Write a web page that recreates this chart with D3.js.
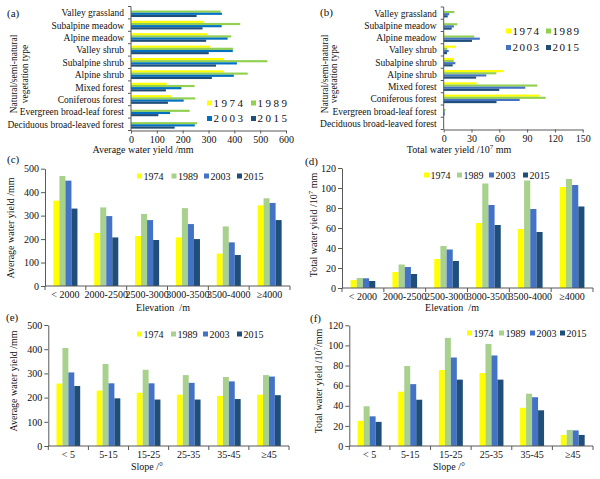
<!DOCTYPE html>
<html><head><meta charset="utf-8">
<script src="https://cdn.jsdelivr.net/npm/d3@7/dist/d3.min.js"></script>
<style>
body{margin:0;background:#fff}
svg{display:block}
text{font-family:"Liberation Serif","Times New Roman",serif;fill:#111}
</style>
</head><body>
<svg id="chart" width="600" height="479"></svg>
<script>
// ---------------- DATA ----------------
const years = ["1974", "1989", "2003", "2015"];

const vegTypes = ["Valley grassland", "Subalpine meadow", "Alpine meadow", "Valley shrub",
  "Subalpine shrub", "Alpine shrub", "Mixed forest", "Coniferous forest",
  "Evergreen broad-leaf forest", "Deciduous broad-leaved forest"];

// (a) average water yield by vegetation type (mm)
const vegAvg1974 = [0, 283, 297, 307, 359, 359, 138, 157, 0, 0];
const vegAvg1989 = [347, 423, 388, 395, 528, 452, 246, 249, 227, 256];
const vegAvg2003 = [352, 351, 374, 394, 410, 398, 195, 204, 151, 247];
const vegAvg2015 = [254, 277, 291, 301, 329, 313, 135, 143, 106, 169];

// (b) total water yield by vegetation type (10^7 mm)
const vegTot1974 = [0, 0.7, 1, 13.3, 10.8, 64.7, 35.6, 103, 0, 0];
const vegTot1989 = [11.5, 14.7, 33, 3.6, 10.8, 56.8, 101, 110, 2, 0.3];
const vegTot2003 = [6, 11, 39, 5.4, 12.6, 46, 88, 82, 1, 0.3];
const vegTot2015 = [4.3, 8.6, 30.5, 3.6, 9.7, 35, 60, 57, 1, 0.3];

const elevClasses = ["< 2000", "2000-2500", "2500-3000", "3000-3500", "3500-4000", "\u22654000"];
// (c) average water yield by elevation (mm)
const elevAvg1974 = [364, 226, 213, 207, 138, 344];
const elevAvg1989 = [469, 335, 307, 332, 254, 374];
const elevAvg2003 = [449, 298, 281, 264, 186, 354];
const elevAvg2015 = [330, 207, 196, 200, 132, 281];
// (d) total water yield by elevation (10^7 mm)
const elevTot1974 = [8, 16, 29, 65, 59, 101];
const elevTot1989 = [10, 23.5, 42, 104.5, 107.5, 109];
const elevTot2003 = [9.7, 21, 38.5, 83, 79, 103];
const elevTot2015 = [7, 14, 27, 63, 56, 81.5];

const slopeClasses = ["< 5", "5-15", "15-25", "25-35", "35-45", "\u226545"];
// (e) average water yield by slope (mm)
const slopeAvg1974 = [258, 229, 220, 212, 207, 212];
const slopeAvg1989 = [405, 339, 315, 293, 285, 293];
const slopeAvg2003 = [304, 259, 259, 261, 267, 287];
const slopeAvg2015 = [248, 197, 192, 192, 194, 210];
// (f) total water yield by slope (10^7 mm)
const slopeTot1974 = [25, 54, 75.5, 72.5, 38, 11];
const slopeTot1989 = [39.5, 79.5, 107.5, 101.5, 52, 16];
const slopeTot2003 = [29.5, 61.5, 88, 90, 48.5, 15.5];
const slopeTot2015 = [24, 46, 66, 66, 35.5, 11];

const ticksAvgVeg = [0, 100, 200, 300, 400, 500, 600];
const ticksTotVeg = [0, 30, 60, 90, 120, 150];
const ticksAvg = [0, 100, 200, 300, 400, 500];
const ticksTot = [0, 20, 40, 60, 80, 100, 120];

// ---------------- DRAWING ----------------
const colorsH = ["#FFFF00", "#92D050", "#0070C0", "#1F4E79"];
const colorsHb = ["#FFFF00", "#92D050", "#4472C4", "#1F4E79"];
const colorsV = ["#FFFF00", "#A9D18E", "#4472C4", "#1F4E79"];
const axisColor = "#595959";

const svg = d3.select("#chart");

function addTitle(sel, parts) {
  parts.forEach(([t, sup], i) => {
    const ts = sel.append("tspan").text(t);
    if (sup) ts.attr("dy", -4).attr("font-size", 7);
    else if (i > 0 && parts[i - 1][1]) ts.attr("dy", 4);
  });
}

function legend(g, pos, colors, fs, ls) {
  years.forEach((yr, i) => {
    const [sx, sy] = pos[i];
    g.append("rect").attr("x", sx).attr("y", sy - 2.5).attr("width", 5).attr("height", 5).attr("fill", colors[i]);
    g.append("text").attr("x", sx + 6.5).attr("y", sy + 3.6)
      .attr("font-size", fs).attr("letter-spacing", ls).text(yr);
  });
}

function hPanel(o) {
  const g = svg.append("g");
  const x = d3.scaleLinear().domain([0, o.max]).range([o.x0, o.x1]);
  const y = d3.scaleBand().domain(vegTypes).range([o.y0, o.y1]).paddingInner(0.3).paddingOuter(0.15);
  const yy = d3.scaleBand().domain(years).range([0, y.bandwidth()]);
  o.series.forEach((arr, si) => {
    g.append("g").selectAll("rect").data(arr).join("rect")
      .attr("x", x(0))
      .attr("y", (d, i) => y(vegTypes[i]) + yy(years[si]))
      .attr("width", d => x(d) - x(0))
      .attr("height", yy.bandwidth())
      .attr("fill", o.colors[si]);
  });
  const ax = g.append("g").attr("transform", `translate(0,${o.y1})`)
    .call(d3.axisBottom(x).tickValues(o.ticks).tickSize(3).tickPadding(2).tickSizeOuter(0));
  ax.select(".domain").attr("stroke", axisColor);
  ax.selectAll(".tick line").attr("stroke", axisColor);
  ax.selectAll(".tick text").attr("font-size", 10).attr("font-family", "Liberation Serif").attr("fill", "#111");
  g.append("line").attr("x1", o.x0).attr("x2", o.x0).attr("y1", o.y0).attr("y2", o.y1).attr("stroke", axisColor);
  const bounds = vegTypes.map(c => y(c) - y.step() * y.paddingInner() / 2).concat([o.y1]);
  g.selectAll(".bt").data(bounds).join("line")
    .attr("x1", o.x0 - 3).attr("x2", o.x0).attr("y1", d => d).attr("y2", d => d).attr("stroke", axisColor);
  g.selectAll(".cl").data(vegTypes).join("text")
    .attr("x", o.x0 - 7).attr("y", d => y(d) + y.bandwidth() / 2 + 3.5)
    .attr("text-anchor", "end").attr("font-size", 9.5).text(d => d);
  const xt = g.append("text").attr("x", o.xtX).attr("y", o.xtY).attr("text-anchor", "middle").attr("font-size", 10);
  addTitle(xt, o.xtitle);
  o.ytitle.forEach((t, i) => {
    g.append("text").attr("transform", `translate(${o.ytX[i]},${o.ytY}) rotate(-90)`)
      .attr("text-anchor", "middle").attr("font-size", 9.5).text(t);
  });
  g.append("text").attr("x", o.lab[0]).attr("y", o.lab[1]).attr("font-size", 11).text(o.label);
  legend(g, o.legPos, o.colors, 11, o.ls);
}

function vPanel(o) {
  const g = svg.append("g");
  const x = d3.scaleBand().domain(o.cats).range([o.x0, o.x1]).paddingInner(0.41).paddingOuter(0.205);
  const xx = d3.scaleBand().domain(years).range([0, x.bandwidth()]);
  const y = d3.scaleLinear().domain([0, o.max]).range([o.yb, o.yt]);
  o.series.forEach((arr, si) => {
    g.append("g").selectAll("rect").data(arr).join("rect")
      .attr("x", (d, i) => x(o.cats[i]) + xx(years[si]))
      .attr("y", d => y(d))
      .attr("width", xx.bandwidth())
      .attr("height", d => y(0) - y(d))
      .attr("fill", o.colors[si]);
  });
  const ay = g.append("g").attr("transform", `translate(${o.x0},0)`)
    .call(d3.axisLeft(y).tickValues(o.ticks).tickSize(4).tickPadding(2).tickSizeOuter(0));
  ay.select(".domain").attr("stroke", axisColor);
  ay.selectAll(".tick line").attr("stroke", axisColor);
  ay.selectAll(".tick text").attr("font-size", 10).attr("font-family", "Liberation Serif").attr("fill", "#111");
  g.append("line").attr("x1", o.x0).attr("x2", o.x1).attr("y1", o.yb).attr("y2", o.yb).attr("stroke", axisColor);
  const bounds = o.cats.map(c => x(c) - x.step() * x.paddingInner() / 2).concat([o.x1]);
  g.selectAll(".bt").data(bounds).join("line")
    .attr("x1", d => d).attr("x2", d => d).attr("y1", o.yb).attr("y2", o.yb + 4).attr("stroke", axisColor);
  g.selectAll(".cl").data(o.cats).join("text")
    .attr("x", d => x(d) + x.bandwidth() / 2).attr("y", o.yb + 12)
    .attr("text-anchor", "middle").attr("font-size", 10).text(d => d);
  g.append("text").attr("x", o.xtX).attr("y", o.xtY).attr("text-anchor", "middle")
    .attr("font-size", 10).attr("xml:space", "preserve").text(o.xtitle);
  const yt = g.append("text").attr("transform", `translate(${o.ytX},${o.ytY}) rotate(-90)`)
    .attr("text-anchor", "middle").attr("font-size", 10);
  addTitle(yt, o.ytitle);
  g.append("text").attr("x", o.lab[0]).attr("y", o.lab[1]).attr("font-size", 11).text(o.label);
  legend(g, o.legPos, o.colors, 10, 0);
}

// (a)
hPanel({
  x0: 131, x1: 286, y0: 6.5, y1: 130.5, max: 600, ticks: ticksAvgVeg,
  series: [vegAvg1974, vegAvg1989, vegAvg2003, vegAvg2015], colors: colorsH,
  xtitle: [["Average  water yield /mm", false]], xtX: 143, xtY: 153,
  ytitle: ["Natural/semi-natural", "vegetation  type"], ytX: [17, 27.5], ytY: 74,
  label: "(a)", lab: [7, 17],
  legPos: [[207, 103], [251, 103], [207, 118.5], [251, 118.5]], ls: 2.5
});
// (b)
hPanel({
  x0: 443.7, x1: 582.7, y0: 7, y1: 129.5, max: 150, ticks: ticksTotVeg,
  series: [vegTot1974, vegTot1989, vegTot2003, vegTot2015], colors: colorsHb,
  xtitle: [["Total water yield /10", false], ["7", true], [" mm", false]], xtX: 459, xtY: 153,
  ytitle: ["Natural/semi-natural", "vegetation  type"], ytX: [327.5, 337], ytY: 74,
  label: "(b)", lab: [320, 16],
  legPos: [[506, 31], [546, 31], [506, 47.5], [546, 47.5]], ls: 1.5
});
// (c)
vPanel({
  cats: elevClasses, x0: 45, x1: 290, yb: 286, yt: 168.7, max: 500, ticks: ticksAvg,
  series: [elevAvg1974, elevAvg1989, elevAvg2003, elevAvg2015], colors: colorsV,
  xtitle: "Elevation  /m", xtX: 163, xtY: 311,
  ytitle: [["Average  water yield /mm", false]], ytX: 14, ytY: 228,
  label: "(c)", lab: [7, 163],
  legPos: [[137, 176], [171.5, 176], [204, 176], [237, 176]]
});
// (d)
vPanel({
  cats: elevClasses, x0: 342, x1: 593, yb: 288, yt: 168, max: 120, ticks: ticksTot,
  series: [elevTot1974, elevTot1989, elevTot2003, elevTot2015], colors: colorsV,
  xtitle: "Elevation  /m", xtX: 452, xtY: 311,
  ytitle: [["Total water yield /10", false], ["7", true], [" mm", false]], ytX: 317, ytY: 225,
  label: "(d)", lab: [305, 165],
  legPos: [[424, 175], [457, 175], [489, 175], [523, 175]]
});
// (e)
vPanel({
  cats: slopeClasses, x0: 48.3, x1: 289, yb: 446, yt: 325, max: 500, ticks: ticksAvg,
  series: [slopeAvg1974, slopeAvg1989, slopeAvg2003, slopeAvg2015], colors: colorsV,
  xtitle: "Slope /\u00B0", xtX: 147, xtY: 470,
  ytitle: [["Average  water yield /mm", false]], ytX: 17, ytY: 381,
  label: "(e)", lab: [6, 321],
  legPos: [[137, 334], [171, 334], [203, 334], [237, 334]]
});
// (f)
vPanel({
  cats: slopeClasses, x0: 349.3, x1: 593, yb: 446, yt: 325.3, max: 120, ticks: ticksTot,
  series: [slopeTot1974, slopeTot1989, slopeTot2003, slopeTot2015], colors: colorsV,
  xtitle: "Slope /\u00B0", xtX: 449, xtY: 470,
  ytitle: [["Total water yield /10", false], ["7", true], ["/mm", false]], ytX: 322, ytY: 381,
  label: "(f)", lab: [310, 322],
  legPos: [[467, 333], [499, 333], [530, 333], [560, 333]]
});
</script>
</body></html>
